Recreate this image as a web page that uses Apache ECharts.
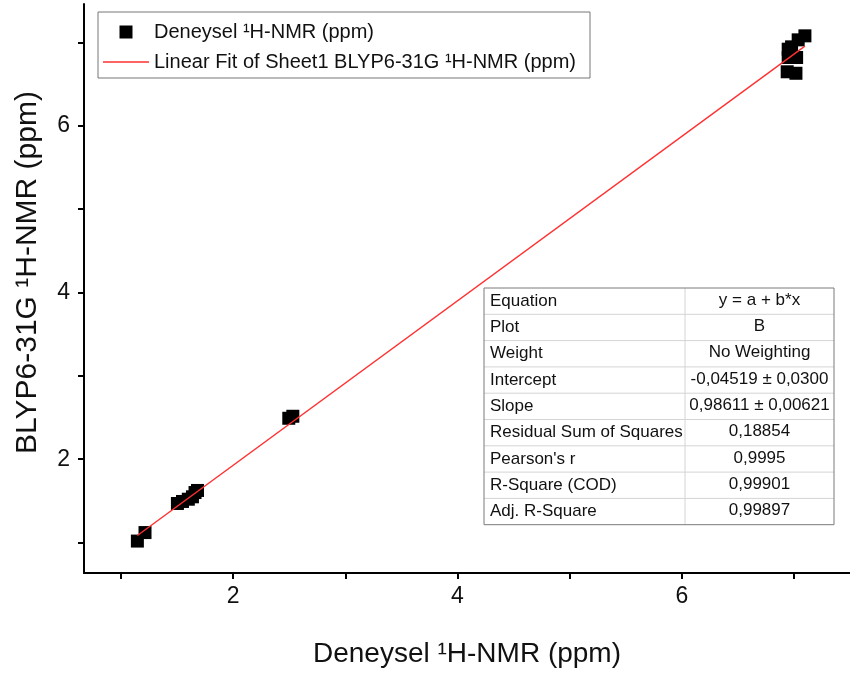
<!DOCTYPE html>
<html>
<head>
<meta charset="utf-8">
<script src="https://cdn.jsdelivr.net/npm/echarts@6/dist/echarts.min.js"></script>
<style>
  html, body { margin: 0; background: #fff; }
  #chart { width: 850px; height: 674px; }
</style>
</head>
<body>
<div id="chart"></div>
<script>
// measured shifts (ppm)
const expX = [1.146, 1.214, 1.503, 1.548, 1.600, 1.637, 1.660, 1.682, 2.496, 2.532,
  6.940, 7.018, 6.949, 6.949, 6.979, 7.024, 7.038, 7.098];
const calcY = [1.018, 1.120, 1.469, 1.493, 1.520, 1.549, 1.600, 1.625, 2.491, 2.515,
  6.647, 6.629, 6.818, 6.918, 6.946, 6.818, 7.030, 7.078];
const fitX = [1.146, 7.098];
const fitY = [1.085, 6.955];

const xTicks = [1, 2, 3, 4, 5, 6, 7];
const xLabels = [2, 4, 6];
const yTicks = [1, 2, 3, 4, 5, 6, 7];
const yLabels = [2, 4, 6];

const tableKeys = ['Equation', 'Plot', 'Weight', 'Intercept', 'Slope',
  'Residual Sum of Squares', "Pearson's r", 'R-Square (COD)', 'Adj. R-Square'];
const tableVals = ['y = a + b*x', 'B', 'No Weighting', '-0,04519 \u00b1 0,0300',
  '0,98611 \u00b1 0,00621', '0,18854', '0,9995', '0,99901', '0,99897'];

const FONT = '"Liberation Sans", Arial, sans-serif';
const scatterName = 'Deneysel \u00b9H-NMR (ppm)';
const fitName = 'Linear Fit of Sheet1 BLYP6-31G \u00b9H-NMR (ppm)';

function fitTable(left, top, width, split, rowH) {
  const kids = [];
  const h = rowH * tableKeys.length;
  for (let i = 1; i < tableKeys.length; i++) {
    kids.push({
      type: 'line',
      shape: {x1: left, y1: top + i * rowH, x2: left + width, y2: top + i * rowH},
      style: {stroke: '#d4d4d4', lineWidth: 1},
    });
  }
  kids.push({
    type: 'line',
    shape: {x1: split, y1: top, x2: split, y2: top + h},
    style: {stroke: '#d4d4d4', lineWidth: 1},
  });
  kids.push({
    type: 'rect',
    shape: {x: left, y: top, width, height: h},
    style: {fill: 'none', stroke: '#7a7a7a', lineWidth: 1},
  });
  tableKeys.forEach((k, i) => {
    const cy = top + i * rowH + rowH / 2;
    kids.push({
      type: 'text',
      style: {text: k, x: left + 6, y: cy, verticalAlign: 'middle', align: 'left',
        font: '17px ' + FONT, fill: '#111'},
    });
    kids.push({
      type: 'text',
      style: {text: tableVals[i], x: (split + left + width) / 2, y: cy - 1, verticalAlign: 'middle',
        align: 'center', font: '17px ' + FONT, fill: '#111'},
    });
  });
  return {type: 'group', children: kids};
}

const chart = echarts.init(document.getElementById('chart'));
const axisCommon = {
  type: 'value',
  nameLocation: 'middle',
  nameTextStyle: {color: '#111', fontSize: 28, fontFamily: FONT},
  axisLine: {show: true, lineStyle: {color: '#000', width: 2}},
  axisTick: {show: true, inside: false, length: 6, lineStyle: {color: '#000', width: 2}},
  axisLabel: {color: '#111', fontSize: 23, fontFamily: FONT},
  splitLine: {show: false},
};

chart.setOption({
  animation: false,
  backgroundColor: '#fff',
  grid: {left: 84, right: 0, top: 4, bottom: 101},
  legend: {
    orient: 'vertical',
    left: 98,
    top: 12,
    padding: [10, 14, 6, 5],
    borderColor: '#777',
    borderWidth: 1,
    itemWidth: 46,
    itemHeight: 13,
    itemGap: 10,
    textStyle: {color: '#111', fontSize: 20, fontFamily: FONT, lineHeight: 20},
    data: [
      {name: scatterName, icon: 'path://M0 0H10V10H0Z'},
      {name: fitName, icon: 'path://M0 0H46V1.3H0Z'},
    ],
  },
  xAxis: {
    ...axisCommon,
    min: 0.67,
    max: 7.5,
    name: 'Deneysel \u00b9H-NMR (ppm)',
    nameGap: 67,
    axisTick: {...axisCommon.axisTick, customValues: xTicks},
    axisLabel: {...axisCommon.axisLabel, margin: 12, customValues: xLabels},
  },
  yAxis: {
    ...axisCommon,
    min: 0.635,
    max: 7.46,
    name: 'BLYP6-31G \u00b9H-NMR (ppm)',
    nameGap: 41,
    nameTextStyle: {...axisCommon.nameTextStyle, fontSize: 30, padding: [0, 0, 0, 32]},
    axisTick: {...axisCommon.axisTick, customValues: yTicks},
    axisLabel: {...axisCommon.axisLabel, margin: 14, customValues: yLabels},
  },
  graphic: [fitTable(484, 288, 350, 685, 26.3)],
  series: [
    {
      name: scatterName,
      type: 'scatter',
      symbol: 'rect',
      symbolSize: 13,
      itemStyle: {color: '#000', opacity: 1},
      data: expX.map((x, i) => [x, calcY[i]]),
      z: 2,
    },
    {
      name: fitName,
      type: 'line',
      showSymbol: false,
      symbol: 'none',
      lineStyle: {color: '#ff3030', width: 1.4},
      itemStyle: {color: '#ff3030'},
      data: fitX.map((x, i) => [x, fitY[i]]),
      z: 3,
    },
  ],
});
</script>
</body>
</html>
